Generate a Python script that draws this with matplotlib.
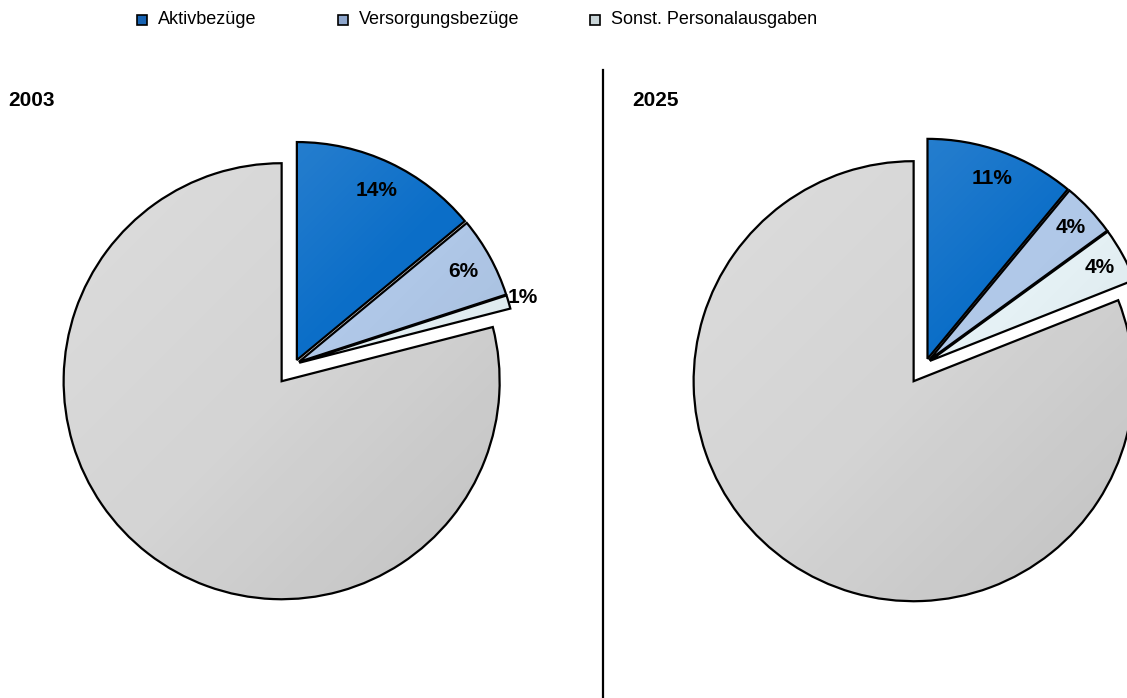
import numpy as np
import matplotlib
matplotlib.use("Agg")
import matplotlib.pyplot as plt
from matplotlib.patches import Rectangle, PathPatch
from matplotlib.lines import Line2D

plt.rcParams['font.family'] = ['Liberation Sans', 'DejaVu Sans']

# data
categories = ["Aktivbezüge", "Versorgungsbezüge", "Sonst. Personalausgaben", "Rest"]
years = ["2003", "2025"]
shares_2003 = [14, 6, 1, 79]
shares_2025 = [11, 4, 4, 81]
labels_2003 = ["14%", "6%", "1%", ""]
labels_2025 = ["11%", "4%", "4%", ""]

colors = ["#0b6ec8", "#b0c8e8", "#e6f2f6", "#d4d4d4"]
legend_colors = ["#1763b3", "#8ea6cc", "#c9d5d8"]

W, H = 1127, 698
fig = plt.figure(figsize=(W / 100, H / 100), dpi=100)


def pie_axes(cx, cy, R, S=300):
    # square axes centred on pixel (cx, cy) measured from top, 1 data unit = R px
    ax = fig.add_axes([(cx - S) / W, (H - cy - S) / H, 2 * S / W, 2 * S / H])
    return ax, S / R


def shade(ax, wedge, lim):
    # soft light-from-top-left shading clipped to the wedge
    n = 300
    xs = np.linspace(-lim, lim, n)
    X, Y = np.meshgrid(xs, xs[::-1])
    g = (-X + Y) / (2 * lim)              # +1 top-left .. -1 bottom-right
    rgba = np.zeros((n, n, 4))
    light = g > 0
    rgba[light, :3] = 1.0
    rgba[light, 3] = np.clip(g[light] * 0.3, 0, 0.18)
    rgba[~light, 3] = np.clip(-g[~light] * 0.12, 0, 0.08)
    im = ax.imshow(rgba, extent=(-lim, lim, -lim, lim), zorder=1.5,
                   interpolation="bilinear")
    im.set_clip_path(wedge)


def draw_pie(ax, lim, shares, labels, label_dist):
    explode = [0.02, 0.02, 0.02, 0.1]
    wedges, _ = ax.pie(shares, colors=colors, startangle=90, counterclock=False,
                       explode=explode,
                       wedgeprops=dict(edgecolor="none", linewidth=0))
    for w in wedges:
        w.set_zorder(1)
        shade(ax, w, lim)
        # outline above the shading
        ax.add_patch(PathPatch(w.get_path(), facecolor="none", edgecolor="black",
                               linewidth=1.6, zorder=3))
    total = float(sum(shares))
    cum = 0.0
    for i, v in enumerate(shares):
        mid = np.deg2rad(90 - 360 * (cum + v / 2) / total)
        cum += v
        if not labels[i]:
            continue
        d = label_dist[i] + explode[i]
        ax.text(d * np.cos(mid), d * np.sin(mid), labels[i], ha="center", va="center",
                fontsize=15, fontweight="bold", color="black", zorder=5)
    ax.set_xlim(-lim, lim)
    ax.set_ylim(-lim, lim)
    ax.axis("off")


ax1, lim1 = pie_axes(295, 364, 218)
draw_pie(ax1, lim1, shares_2003, labels_2003, [0.86, 0.86, 1.07, 0])

ax2, lim2 = pie_axes(926, 363, 220)
draw_pie(ax2, lim2, shares_2025, labels_2025, [0.87, 0.88, 0.88, 0])

# year titles
fig.text(8 / W, 1 - 100 / H, years[0], fontsize=15, fontweight="bold", va="center")
fig.text(632 / W, 1 - 100 / H, years[1], fontsize=15, fontweight="bold", va="center")

# divider
fig.add_artist(Line2D([603 / W, 603 / W], [0, 1 - 70 / H], color="black", lw=1.6))

# legend
marker_x = [142, 343, 595]
for x, name, c in zip(marker_x, categories[:3], legend_colors):
    fig.add_artist(Rectangle(((x - 5) / W, 1 - 25 / H), 10 / W, 10 / H,
                             facecolor=c, edgecolor="black", lw=1.2))
    fig.text((x + 16) / W, 1 - 20 / H, name, fontsize=13, va="center")

fig.savefig("out.png", dpi=100)
